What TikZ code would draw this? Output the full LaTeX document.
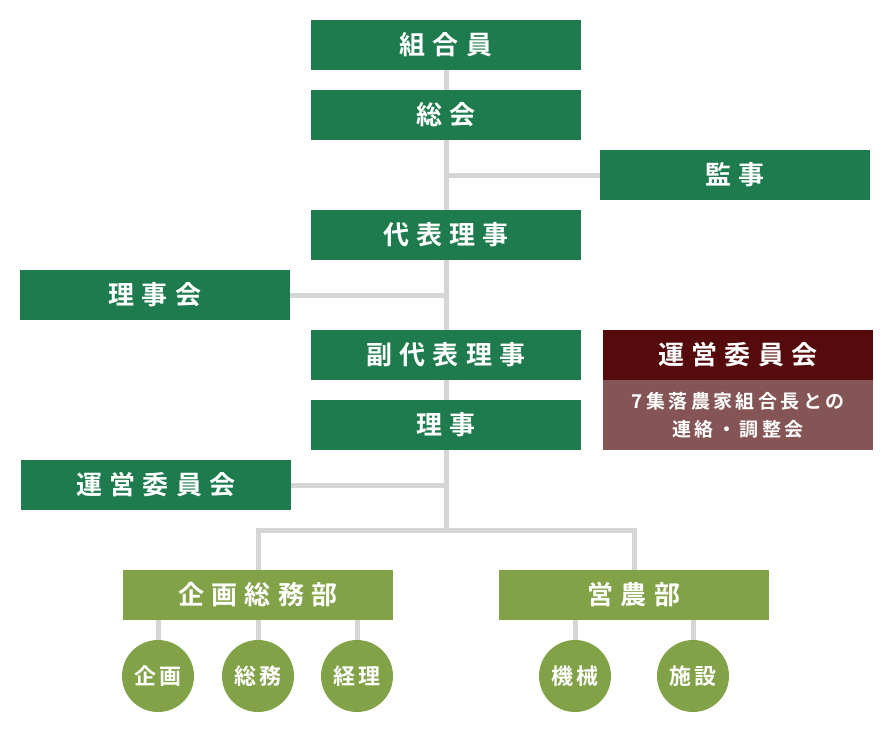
\documentclass[tikz,border=0pt]{standalone}
\usepackage{fontspec}
\newfontfamily\jpfont[LetterSpace=28]{Noto Sans CJK JP Bold}
\newfontfamily\jpunit[LetterSpace=16]{Noto Sans CJK JP Bold}
\newfontfamily\jpsmall[LetterSpace=18]{Noto Sans CJK JP Bold}
\usetikzlibrary{positioning,backgrounds}
\definecolor{orggreen}{RGB}{30,123,77}
\definecolor{leafgreen}{RGB}{130,162,72}
\definecolor{darkred}{RGB}{85,10,12}
\definecolor{palered}{RGB}{133,84,84}
\definecolor{linegray}{RGB}{213,213,213}
\tikzset{
  orgbox/.style={rectangle,fill=orggreen,text=white,minimum width=270pt,minimum height=50pt,inner sep=0pt,font=\jpfont\fontsize{26}{30}\selectfont},
  deptbox/.style={orgbox,fill=leafgreen},
  unitcirc/.style={circle,fill=leafgreen,text=white,minimum size=72pt,inner sep=0pt,font=\jpunit\fontsize{22}{26}\selectfont},
  link/.style={draw=linegray,line width=5pt}
}
\begin{document}
\begin{tikzpicture}[x=1pt,y=-1pt]
\useasboundingbox (0,0) rectangle (890,730);

% main line
\node[orgbox] (kumiai) at (446,45) {組合員};
\node[orgbox] (sokai) at (446,115) {総会};
\node[orgbox] (kanji) at (735,175) {監事};
\node[orgbox] (daihyo) at (446,235) {代表理事};
\node[orgbox] (rijikai) at (155,295) {理事会};
\node[orgbox] (fukudaihyo) at (446,355) {副代表理事};
\node[orgbox] (riji) at (446,425) {理事};
\node[orgbox] (unei) at (156,485) {運営委員会};

% committee
\node[orgbox,fill=darkred] (uneiR) at (738,355) {運営委員会};
\node[rectangle,fill=palered,text=white,minimum width=270pt,minimum height=70pt,inner sep=0pt,align=center,
  font=\jpsmall\fontsize{19}{28}\selectfont,below=0pt of uneiR] (uneiNote) {7集落農家組合長との\\連絡・調整会};

% departments
\coordinate (hub) at (446,530);
\node[deptbox] (kikaku) at (258,595) {企画総務部};
\node[deptbox] (einou) at (634,595) {営農部};
\node[unitcirc] (c1) at (158,676) {企画};
\node[unitcirc] (c2) at (258,676) {総務};
\node[unitcirc] (c3) at (357,676) {経理};
\node[unitcirc] (c4) at (575,676) {機械};
\node[unitcirc] (c5) at (693,676) {施設};

\begin{scope}[on background layer]
  \path[link] (kumiai) -- (hub);
  \path[link] (kanji.west) -- (kanji.west -| kumiai);
  \path[link] (rijikai.east) -- (rijikai.east -| kumiai);
  \path[link] (unei.east) -- (unei.east -| kumiai);
  \path[link] (kikaku) |- (hub) -| (einou);
  \foreach \c in {c1,c2,c3} \path[link] (\c) -- (\c |- kikaku);
  \foreach \c in {c4,c5} \path[link] (\c) -- (\c |- einou);
\end{scope}
\end{tikzpicture}
\end{document}
